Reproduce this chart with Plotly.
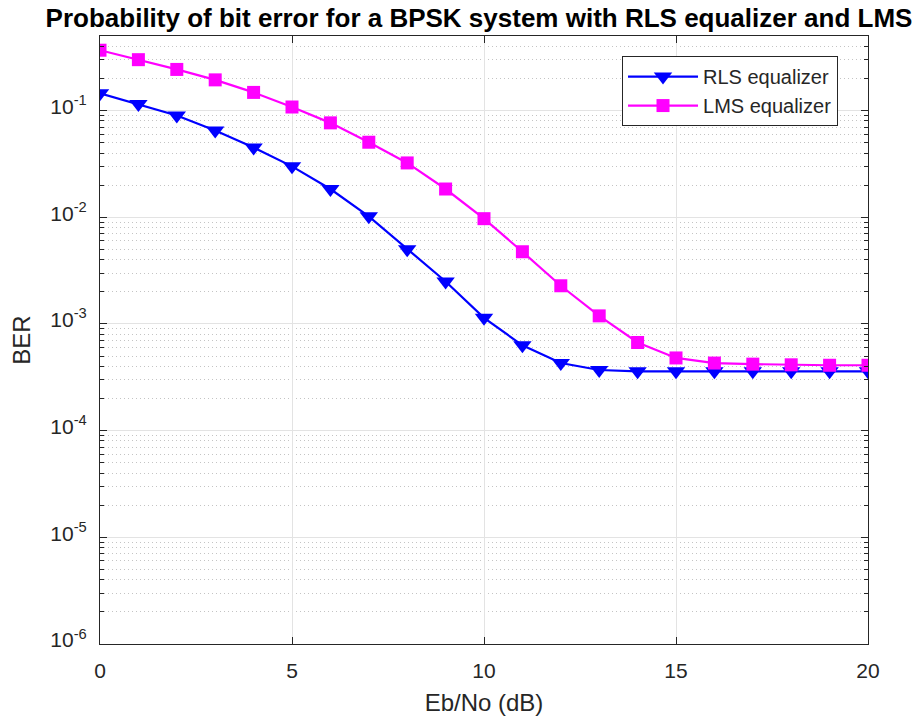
import plotly.graph_objects as go

ebno_db = list(range(0, 21))
ber_rls = [0.145, 0.115, 0.090, 0.065, 0.045, 0.030, 0.0184, 0.0102, 0.0050, 0.0025,
           0.00114, 0.00063, 0.00043, 0.00037, 0.00036, 0.00036, 0.00036, 0.00036,
           0.00036, 0.00036, 0.00036]
ber_lms = [0.368, 0.300, 0.243, 0.194, 0.148, 0.108, 0.0767, 0.0505, 0.0323, 0.0184,
           0.0097, 0.00475, 0.00228, 0.00119, 0.00067, 0.00048, 0.00043, 0.00042,
           0.000414, 0.00041, 0.00041]
y_tick_vals = [1e-6, 1e-5, 1e-4, 1e-3, 1e-2, 1e-1]
y_tick_text = ["10<sup>-6</sup>", "10<sup>-5</sup>", "10<sup>-4</sup>",
               "10<sup>-3</sup>", "10<sup>-2</sup>", "10<sup>-1</sup>"]
x_tick_vals = [0, 5, 10, 15, 20]

AX = "#262626"
FONT = "Liberation Sans, Arial, sans-serif"

fig = go.Figure()
fig.add_trace(go.Scatter(
    x=ebno_db, y=ber_rls, mode="lines+markers", name="RLS equalizer",
    line=dict(color="#0000ff", width=2.2),
    marker=dict(symbol="triangle-down", size=16, color="#0000ff"),
))
fig.add_trace(go.Scatter(
    x=ebno_db, y=ber_lms, mode="lines+markers", name="LMS equalizer",
    line=dict(color="#ff00ff", width=2.2),
    marker=dict(symbol="square", size=13, color="#ff00ff"),
))

fig.update_layout(
    width=915, height=718,
    margin=dict(l=100, r=47, t=36, b=74, autoexpand=False),
    paper_bgcolor="white", plot_bgcolor="white",
    font=dict(family=FONT, color=AX, size=21),
    title=dict(text="<b>Probability of bit error for a BPSK system with RLS equalizer and LMS</b>",
               font=dict(family=FONT, size=26, color="black"),
               x=0.5235, xref="container", xanchor="center",
               y=0.975, yref="container", yanchor="middle"),
    showlegend=True,
    legend=dict(x=0.6797, y=0.967, xanchor="left", yanchor="top",
                bgcolor="white", bordercolor=AX, borderwidth=1,
                font=dict(family=FONT, size=20, color=AX),
                itemwidth=70, tracegroupgap=0),
)

fig.update_xaxes(
    range=[0, 20], tickvals=x_tick_vals, ticktext=[str(v) for v in x_tick_vals],
    showline=True, linecolor=AX, linewidth=1.2, mirror="allticks",
    ticks="inside", ticklen=7, tickcolor=AX, tickwidth=1,
    showgrid=True, gridcolor="#e3e3e3", gridwidth=1,
    zeroline=False, tickfont=dict(size=21, color=AX), automargin=False,
    title=dict(text="Eb/No (dB)", font=dict(size=24, color=AX), standoff=12),
    ticklabelstandoff=8,
)
fig.update_yaxes(
    type="log", range=[-6, -0.301],
    tickvals=y_tick_vals, ticktext=y_tick_text,
    showline=True, linecolor=AX, linewidth=1.2, mirror="allticks",
    ticks="inside", ticklen=7, tickcolor=AX, tickwidth=1,
    showgrid=True, gridcolor="#e3e3e3", gridwidth=1,
    zeroline=False, tickfont=dict(size=21, color=AX), automargin=False,
    minor=dict(dtick="D1", ticks="inside", ticklen=4, tickcolor=AX,
               showgrid=True, gridcolor="#c4c4c4", griddash="1px,3px", gridwidth=1),
    title=dict(text="BER", font=dict(size=24, color=AX), standoff=12),
    ticklabelstandoff=8, ticklabelshift=-4,
)

fig.write_html("out.html")
